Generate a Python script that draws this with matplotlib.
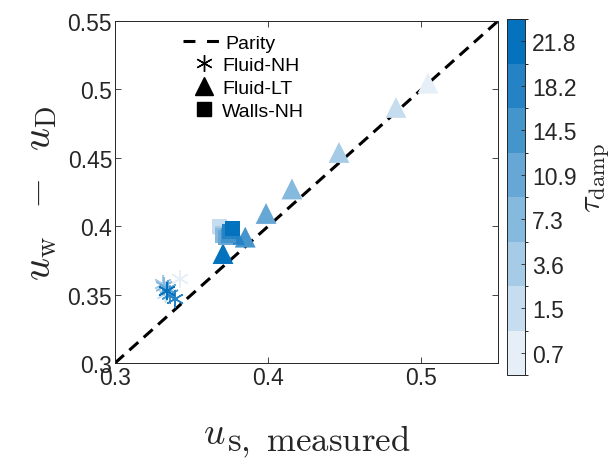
import matplotlib
matplotlib.use("Agg")
import matplotlib.pyplot as plt
from matplotlib.colors import ListedColormap, BoundaryNorm
from matplotlib.lines import Line2D
import numpy as np

plt.rcParams['font.family'] = ['Liberation Sans', 'DejaVu Sans']
plt.rcParams['mathtext.fontset'] = 'cm'

# colour levels (tau_damp)
tau_labels = ['0.7', '1.5', '3.6', '7.3', '10.9', '14.5', '18.2', '21.8']
level_colors = ['#E6EFF7', '#C6DDEF', '#A6CBE6', '#86B9DE',
                '#66A7D6', '#4595CD', '#2583C5', '#0572BD']

# Fluid-NH (asterisks), index = tau level
nh_level = [0, 1, 2, 3, 4, 5, 6, 7]
nh_x = [0.3424, 0.3330, 0.3313, 0.3320, 0.3346, 0.3360, 0.3392, 0.3339]
nh_y = [0.3614, 0.3505, 0.3577, 0.3560, 0.3540, 0.3500, 0.3468, 0.3526]

# Fluid-LT (triangles)
lt_level = [0, 1, 2, 3, 4, 5, 6, 7]
lt_x = [0.5043, 0.4834, 0.4462, 0.4155, 0.3986, 0.3850, 0.3780, 0.3705]
lt_y = [0.5046, 0.4868, 0.4539, 0.4272, 0.4093, 0.3920, 0.3940, 0.3800]

# Walls-NH (squares)
wn_level = [0, 1, 2, 3, 4, 5, 6, 7]
wn_x = [0.3690, 0.3685, 0.3700, 0.3700, 0.3720, 0.3740, 0.3750, 0.3764]
wn_y = [0.3990, 0.3995, 0.3950, 0.3930, 0.3920, 0.3930, 0.3960, 0.3985]

parity = [0.3, 0.55]

W, H = 614, 464
fig = plt.figure(figsize=(W / 100, H / 100), dpi=100)
ax = fig.add_axes([115 / W, 1 - 364 / H, 383 / W, 342 / H])
cax = fig.add_axes([507 / W, 1 - 376 / H, 18 / W, 356 / H])

cmap = ListedColormap(level_colors)
norm = BoundaryNorm(np.arange(0, 9), cmap.N)

ln, = ax.plot(parity, parity, color='black', lw=2.2, zorder=1)
ln.set_dashes((3.9, 2.4))

ax.scatter(nh_x, nh_y, c=nh_level, cmap=cmap, norm=norm, marker=(6, 2, 0),
           s=150, linewidths=1.1, zorder=2)
ax.scatter(lt_x, lt_y, c=lt_level, cmap=cmap, norm=norm, marker='^',
           s=225, linewidths=0, zorder=3)
ax.scatter(wn_x, wn_y, c=wn_level, cmap=cmap, norm=norm, marker='s',
           s=117, linewidths=0, zorder=4)

ax.set_xlim(0.3, 0.55)
ax.set_ylim(0.3, 0.55)
ax.set_xticks([0.3, 0.4, 0.5])
ax.set_xticklabels(['0.3', '0.4', '0.5'])
ax.set_yticks([0.3, 0.35, 0.4, 0.45, 0.5, 0.55])
ax.set_yticklabels(['0.3', '0.35', '0.4', '0.45', '0.5', '0.55'])
ax.tick_params(direction='in', length=4, width=0.6, top=True, right=True,
               labelsize=16.5, colors='#262626', pad=2)
for sp in ax.spines.values():
    sp.set_color('#262626')
    sp.set_linewidth(0.7)

# x label: italic u with full-size roman subscript (as in the reference)
fig.text(203 / W, 1 - 444 / H, r'$u$', fontsize=27, color='#262626',
         ha='left', va='baseline')
fig.text(227 / W, 1 - 451 / H, r'$\mathrm{s,\ measured}$', fontsize=25,
         color='#262626', ha='left', va='baseline')

ax.set_ylabel(r'$u_{\rm w}\;\;-\;\;u_{\rm D}$', fontsize=29, color='#262626',
              labelpad=6)

# legend: parity entry (long dashed handle) and marker entries
leg1 = ax.legend([Line2D([], [], color='black', lw=2.2, dashes=(3.9, 3.8))],
                 ['Parity'], loc='center left',
                 bbox_to_anchor=((183 - 115) / 383, (364 - 44) / 342),
                 frameon=False, fontsize=14, handlelength=1.9,
                 handletextpad=0.3, borderpad=0, borderaxespad=0)
ax.add_artist(leg1)
mk_handles = [
    Line2D([], [], color='black', lw=0, marker=(6, 2, 0), markersize=12,
           markeredgewidth=1.0),
    Line2D([], [], color='black', lw=0, marker='^', markersize=12.5),
    Line2D([], [], color='black', lw=0, marker='s', markersize=9.5),
]
ax.legend(mk_handles, ['Fluid-NH', 'Fluid-LT', 'Walls-NH'],
          loc='center left',
          bbox_to_anchor=((192 - 115) / 383, (364 - 89) / 342),
          frameon=False, fontsize=14, handlelength=1.2, handletextpad=0.35,
          labelspacing=0.28, borderpad=0, borderaxespad=0)

sm = plt.cm.ScalarMappable(cmap=cmap, norm=norm)
cb = fig.colorbar(sm, cax=cax, ticks=np.arange(8) + 0.5)
cb.ax.set_yticklabels(tau_labels)
cb.ax.tick_params(direction='in', length=3, width=0.6, labelsize=16.5,
                  colors='#262626', pad=5)
cb.outline.set_edgecolor('#262626')
cb.outline.set_linewidth(0.7)
cax.text((597 - 507) / 18, 0.555, r'$\tau_{\rm damp}$', fontsize=23,
         color='#262626', rotation=90, ha='center', va='center',
         transform=cax.transAxes)

fig.savefig('out.png', dpi=100)
